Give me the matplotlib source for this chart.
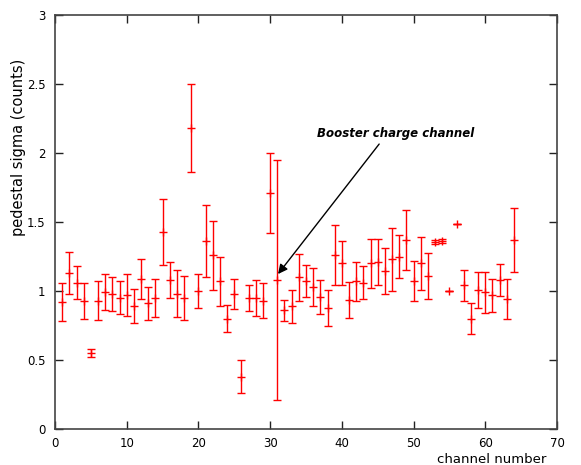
import matplotlib
matplotlib.use("Agg")
import matplotlib.pyplot as plt

channels = list(range(1, 65))
sigma = [0.92, 1.13, 1.06, 0.93, 0.55, 0.93, 0.99, 0.98, 0.95, 0.97,
         0.89, 1.09, 0.91, 0.95, 1.43, 1.08, 0.98, 0.95, 2.18, 1.00,
         1.36, 1.26, 1.07, 0.80, 0.98, 0.38, 0.95, 0.95, 0.93, 1.71,
         1.08, 0.86, 0.89, 1.10, 1.07, 1.03, 0.955, 0.88, 1.26, 1.20,
         0.935, 1.07, 1.06, 1.20, 1.21, 1.145, 1.23, 1.25, 1.37, 1.07,
         1.20, 1.11, 1.355, 1.363, 1.00, 1.483, 1.04, 0.80, 1.01, 0.99,
         0.97, 1.08, 0.94, 1.37]
sigma_err = [0.14, 0.155, 0.12, 0.13, 0.03, 0.14, 0.13, 0.125, 0.12, 0.15,
             0.125, 0.145, 0.12, 0.14, 0.24, 0.13, 0.17, 0.16, 0.32, 0.125,
             0.26, 0.25, 0.175, 0.10, 0.11, 0.12, 0.095, 0.13, 0.125, 0.29,
             0.87, 0.075, 0.12, 0.17, 0.115, 0.14, 0.125, 0.13, 0.22, 0.16,
             0.13, 0.14, 0.12, 0.18, 0.17, 0.165, 0.23, 0.155, 0.22, 0.145,
             0.195, 0.165, 0.012, 0.012, 0.0, 0.0, 0.11, 0.11, 0.13, 0.15,
             0.12, 0.115, 0.145, 0.23]

xticks = [0, 10, 20, 30, 40, 50, 60, 70]
yticks = [0, 0.5, 1, 1.5, 2, 2.5, 3]
ytick_labels = ["0", "0.5", "1", "1.5", "2", "2.5", "3"]

annot_text = "Booster charge channel"
annot_text_pos = (36.5, 2.145)
arrow_start = (45.2, 2.065)
arrow_tip = (31.1, 1.123)

fig = plt.figure(figsize=(5.81, 4.65), dpi=100)
ax = fig.add_axes([0.0947, 0.0774, 0.864, 0.8903])

ax.errorbar(channels, sigma, yerr=sigma_err, fmt='+', color='#ff0000',
            ecolor='#ff0000', elinewidth=1.0, capsize=2.6, capthick=1.0,
            markersize=5.5, markeredgewidth=1.0, zorder=3)

ax.set_xlim(0, 70)
ax.set_ylim(0, 3)
ax.set_xticks(xticks)
ax.set_yticks(yticks)
ax.set_yticklabels(ytick_labels)
ax.tick_params(direction='in', length=5.5, width=1.0, color='#222222',
               top=True, right=True, labelsize=8.5, pad=6)
ax.tick_params(axis='y', pad=7)
for s in ax.spines.values():
    s.set_color('#444444')
    s.set_linewidth(1.2)

ax.text(-0.073, 0.681, "pedestal sigma (counts)", transform=ax.transAxes,
        rotation=90, ha='center', va='center', fontsize=10.5)
ax.text(0.87, -0.073, "channel number", transform=ax.transAxes,
        ha='center', va='center', fontsize=9.5)

ax.text(annot_text_pos[0], annot_text_pos[1], annot_text, fontsize=8.5,
        fontweight='bold', fontstyle='italic', ha='left', va='center')
ax.annotate("", xy=arrow_tip, xytext=arrow_start,
            arrowprops=dict(arrowstyle='-|>', color='black', lw=1.0,
                            mutation_scale=14, shrinkA=0, shrinkB=0))

fig.savefig("out.png", dpi=100)
